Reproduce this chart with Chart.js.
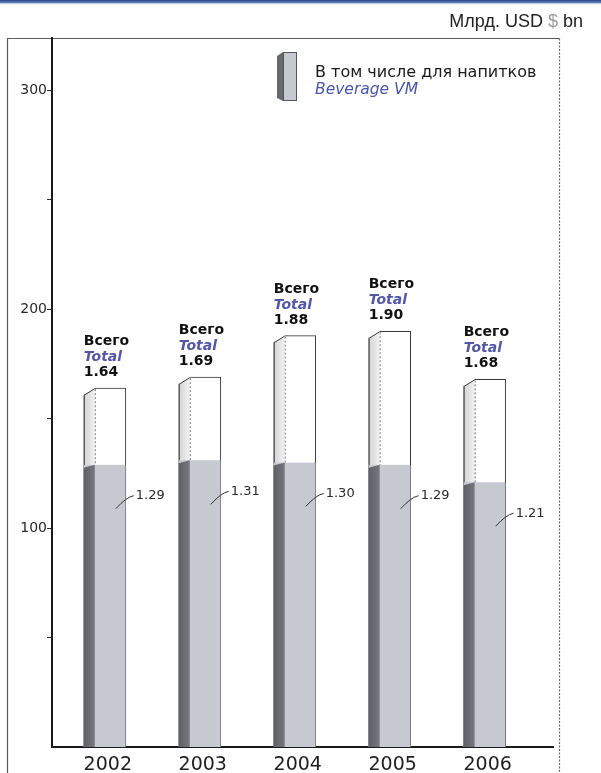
<!DOCTYPE html>
<html>
<head>
<meta charset="utf-8">
<script src="https://cdn.jsdelivr.net/npm/chart.js@4.4.1/dist/chart.umd.min.js"></script>
<style>
  html, body { margin: 0; padding: 0; background: #fff; }
  canvas { display: block; }
</style>
</head>
<body>
<canvas id="chart" width="601" height="773"></canvas>
<script>
// Vending market, billions of USD
const years = ['2002', '2003', '2004', '2005', '2006'];
const totalValues = [1.64, 1.69, 1.88, 1.90, 1.68];      // Всего / Total
const beverageValues = [1.29, 1.31, 1.30, 1.29, 1.21];   // В том числе для напитков / Beverage VM
const yTickValues = [0.5, 1, 1.5, 2, 2.5, 3];
const yTickLabels = ['', '100', '', '200', '', '300'];

const FONT = '"DejaVu Sans", "Liberation Sans", sans-serif';
const SIDE = 11;   // width of the shaded side face
const SLANT = 7;   // drop of the side face top edge

// Canvas background, top rule and outer frame
const framePlugin = {
  id: 'frame',
  beforeDraw(chart) {
    const ctx = chart.ctx;
    ctx.save();
    ctx.fillStyle = '#fff';
    ctx.fillRect(0, 0, chart.width, chart.height);
    const g = ctx.createLinearGradient(0, 0, 0, 5);
    g.addColorStop(0, '#23428a');
    g.addColorStop(0.5, '#5f7bb6');
    g.addColorStop(1, 'rgba(220,228,242,0)');
    ctx.fillStyle = g;
    ctx.fillRect(0, 0, chart.width, 5);

    const top = chart.chartArea.top;
    ctx.lineWidth = 1.2;
    ctx.strokeStyle = '#5a5a5a';
    ctx.beginPath();
    ctx.moveTo(7.5, chart.height);
    ctx.lineTo(7.5, top + 0.5);
    ctx.lineTo(559.5, top + 0.5);
    ctx.stroke();
    ctx.setLineDash([2, 1.5]);
    ctx.strokeStyle = '#6a6a6a';
    ctx.beginPath();
    ctx.moveTo(559.5, top + 0.5);
    ctx.lineTo(559.5, chart.height);
    ctx.stroke();
    ctx.restore();
  }
};

// Side faces that give the bars their depth
const depthPlugin = {
  id: 'depth',
  afterDatasetDraw(chart, args) {
    const ctx = chart.ctx;
    const isTotal = args.index === 1;
    ctx.save();
    args.meta.data.forEach((el) => {
      const { x, y, base, width } = el.getProps(['x', 'y', 'base', 'width'], true);
      const L = x - width / 2;
      if (isTotal) {
        // cut the front corner so the side face can slope
        ctx.fillStyle = '#fff';
        ctx.beginPath();
        ctx.moveTo(L - 2, y - 2);
        ctx.lineTo(L + SIDE, y - 2);
        ctx.lineTo(L + SIDE, y + 0.5);
        ctx.lineTo(L - 2, y + SLANT + 0.5);
        ctx.closePath();
        ctx.fill();
        const g = ctx.createLinearGradient(L, 0, L + SIDE, 0);
        g.addColorStop(0, '#d4d4d4');
        g.addColorStop(1, '#f1f1f1');
        ctx.fillStyle = g;
        ctx.beginPath();
        ctx.moveTo(L, y + SLANT);
        ctx.lineTo(L + SIDE, y);
        ctx.lineTo(L + SIDE, base);
        ctx.lineTo(L, base);
        ctx.closePath();
        ctx.fill();
        ctx.strokeStyle = '#3a3a3a';
        ctx.lineWidth = 1;
        ctx.beginPath();
        ctx.moveTo(L + 0.5, base);
        ctx.lineTo(L + 0.5, y + SLANT);
        ctx.lineTo(L + SIDE, y + 0.5);
        ctx.stroke();
        ctx.setLineDash([2, 2]);
        ctx.strokeStyle = '#777';
        ctx.beginPath();
        ctx.moveTo(L + SIDE + 0.5, y + 1);
        ctx.lineTo(L + SIDE + 0.5, base);
        ctx.stroke();
        ctx.setLineDash([]);
      } else {
        const g = ctx.createLinearGradient(L, 0, L + SIDE, 0);
        g.addColorStop(0, '#5f6065');
        g.addColorStop(1, '#77787d');
        ctx.fillStyle = g;
        ctx.beginPath();
        ctx.moveTo(L, y + 3);
        ctx.lineTo(L + SIDE, y);
        ctx.lineTo(L + SIDE, base);
        ctx.lineTo(L, base);
        ctx.closePath();
        ctx.fill();
      }
    });
    ctx.restore();
  }
};

// Value captions above and beside the bars
const captionPlugin = {
  id: 'captions',
  afterDatasetsDraw(chart) {
    const ctx = chart.ctx;
    ctx.save();
    ctx.textAlign = 'left';
    ctx.textBaseline = 'alphabetic';
    chart.getDatasetMeta(1).data.forEach((el, i) => {
      const { x, y, width } = el.getProps(['x', 'y', 'width'], true);
      const L = x - width / 2;
      ctx.fillStyle = '#111';
      ctx.font = 'bold 14px ' + FONT;
      ctx.fillText('Всего', L, y - 43);
      ctx.fillStyle = '#5357a6';
      ctx.font = 'italic bold 14px ' + FONT;
      ctx.fillText('Total', L, y - 27);
      ctx.fillStyle = '#111';
      ctx.font = 'bold 14px ' + FONT;
      ctx.fillText(totalValues[i].toFixed(2), L, y - 12);
    });
    chart.getDatasetMeta(0).data.forEach((el, i) => {
      const { x, y, width } = el.getProps(['x', 'y', 'width'], true);
      const R = x + width / 2;
      const ly = y + 31;
      ctx.strokeStyle = '#333';
      ctx.lineWidth = 1;
      ctx.beginPath();
      ctx.moveTo(R - 10, ly + 13);
      ctx.quadraticCurveTo(R + 1, ly + 1, R + 8, ly);
      ctx.stroke();
      ctx.fillStyle = '#2a2a2a';
      ctx.font = '13px ' + FONT;
      ctx.textBaseline = 'middle';
      ctx.fillText(beverageValues[i].toFixed(2), R + 10, ly);
      ctx.textBaseline = 'alphabetic';
    });
    ctx.restore();
  }
};

// Unit caption and legend
const headerPlugin = {
  id: 'header',
  afterDraw(chart) {
    const ctx = chart.ctx;
    ctx.save();
    ctx.font = '18px "Liberation Sans", Arial, sans-serif';
    ctx.textBaseline = 'alphabetic';
    const parts = [['Млрд. USD ', '#222'], ['$', '#9a9a9a'], [' bn', '#222']];
    const total = parts.reduce((s, p) => s + ctx.measureText(p[0]).width, 0);
    let cx = 583 - total;
    parts.forEach(([t, c]) => {
      ctx.fillStyle = c;
      ctx.fillText(t, cx, 27);
      cx += ctx.measureText(t).width;
    });

    // legend swatch
    const lx = 277, ly = 52, lw = 20, lh = 49;
    ctx.fillStyle = '#c6c9d0';
    ctx.fillRect(lx + 6, ly, lw - 6, lh);
    ctx.fillStyle = '#68696e';
    ctx.beginPath();
    ctx.moveTo(lx, ly + 4);
    ctx.lineTo(lx + 6, ly);
    ctx.lineTo(lx + 6, ly + lh);
    ctx.lineTo(lx, ly + lh - 3);
    ctx.closePath();
    ctx.fill();
    ctx.strokeStyle = '#555';
    ctx.lineWidth = 1;
    ctx.strokeRect(lx + 6.5, ly + 0.5, lw - 7, lh - 1);

    ctx.fillStyle = '#1a1a1a';
    ctx.font = '16px ' + FONT;
    ctx.fillText('В том числе для напитков', 315, 77);
    ctx.fillStyle = '#4a56a8';
    ctx.font = 'italic 15.5px ' + FONT;
    ctx.fillText('Beverage VM', 315, 94);
    ctx.restore();
  }
};

new Chart(document.getElementById('chart'), {
  type: 'bar',
  data: {
    datasets: [
      {
        label: 'В том числе для напитков',
        data: beverageValues.map((v, i) => ({ x: i, y: v })),
        backgroundColor: '#c6c9d0',
        borderColor: '#7d8088',
        borderWidth: { top: 0, left: 0, bottom: 0, right: 1 },
        borderSkipped: false,
        barThickness: 42,
        grouped: false
      },
      {
        label: 'Всего',
        data: totalValues.map((v, i) => ({ x: i, y: v })),
        backgroundColor: '#ffffff',
        borderColor: '#3a3a3a',
        borderWidth: 1,
        borderSkipped: 'bottom',
        barThickness: 42,
        grouped: false
      }
    ]
  },
  options: {
    responsive: false,
    animation: false,
    devicePixelRatio: 1,
    layout: { padding: { top: 38, right: 48, left: 0, bottom: 0 } },
    plugins: { legend: { display: false }, tooltip: { enabled: false } },
    scales: {
      x: {
        type: 'linear',
        offset: false,
        min: -0.556,
        max: 4.72,
        afterBuildTicks: (s) => { s.ticks = years.map((_, i) => ({ value: i })); },
        afterFit: (s) => { s.height = 26; },
        grid: { display: false, drawTicks: false, offset: false },
        border: { display: true, color: '#1a1a1a', width: 2 },
        ticks: {
          callback: (v) => years[v] ?? '',
          font: { family: FONT, size: 19 },
          color: '#1e1e1e',
          padding: 7,
          labelOffset: 3,
          maxRotation: 0,
          autoSkip: false
        }
      },
      y: {
        min: 0,
        max: 3.24,
        afterBuildTicks: (s) => { s.ticks = yTickValues.map((v) => ({ value: v })); },
        afterFit: (s) => { s.width = 52; },
        grid: { display: true, drawOnChartArea: false, drawTicks: true, tickLength: 5, color: '#333', lineWidth: 1 },
        border: { display: true, color: '#1a1a1a', width: 2 },
        ticks: {
          callback: (v) => yTickLabels[yTickValues.indexOf(v)] ?? '',
          font: { family: FONT, size: 14 },
          color: '#2a2a2a',
          padding: 0,
          autoSkip: false
        }
      }
    }
  },
  plugins: [framePlugin, depthPlugin, captionPlugin, headerPlugin]
});
</script>
</body>
</html>
